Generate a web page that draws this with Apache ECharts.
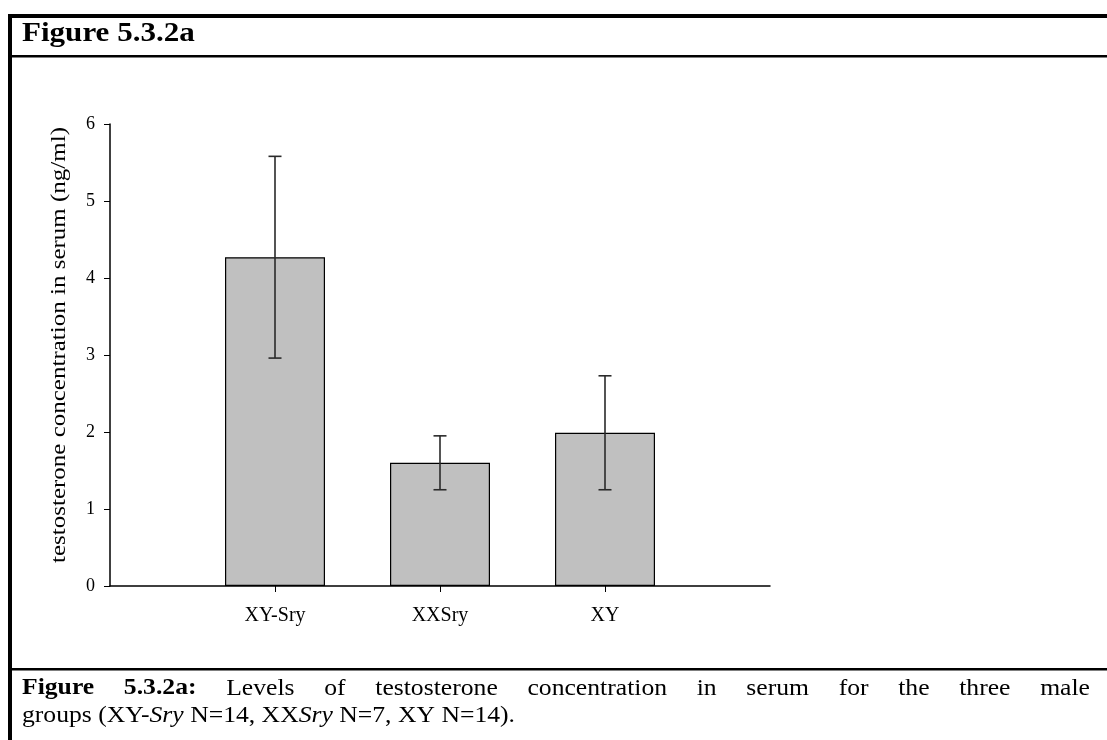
<!DOCTYPE html>
<html>
<head>
<meta charset="utf-8">
<script src="https://cdn.jsdelivr.net/npm/echarts@6/dist/echarts.min.js"></script>
<style>
  html, body { margin: 0; padding: 0; background: #fff; }
  #chart { width: 1107px; height: 740px; }
</style>
</head>
<body>
<div id="chart"></div>
<script>
// Serum testosterone by genotype group: mean and standard error
const categories = ['XY-Sry', 'XXSry', 'XY'];
const means = [4.27, 1.60, 1.99];
const stdErr = [1.31, 0.35, 0.74];
const xPositions = [1, 2, 3];

const SERIF = 'Liberation Serif';
const INK = '#000';

const measureCtx = document.createElement('canvas').getContext('2d');
function textWidth(str, size, bold, italic) {
  measureCtx.font = (italic ? 'italic ' : '') + (bold ? 'bold ' : '') + size + 'px "' + SERIF + '"';
  return measureCtx.measureText(str).width;
}
function txt(text, size, bold, italic, extra) {
  return Object.assign({
    text: text, fontFamily: SERIF, fontSize: size,
    fontWeight: bold ? 'bold' : 'normal', fontStyle: italic ? 'italic' : 'normal',
    fill: INK, align: 'left', verticalAlign: 'top'
  }, extra || {});
}

// Caption, first line is justified across the frame
const captionSize = 23;
const captionLine1 = [
  { t: 'Figure', bold: true }, { t: '5.3.2a:', bold: true },
  { t: 'Levels' }, { t: 'of' }, { t: 'testosterone' }, { t: 'concentration' },
  { t: 'in' }, { t: 'serum' }, { t: 'for' }, { t: 'the' }, { t: 'three' }, { t: 'male' }
];
const captionLine2 = [
  { t: 'groups (XY-' }, { t: 'Sry', italic: true }, { t: ' N=14, XX' },
  { t: 'Sry', italic: true }, { t: ' N=7, XY N=14).' }
];
const line2Natural = captionLine2.reduce((s, p) => s + textWidth(p.t, captionSize, false, p.italic), 0);
const capScale = 493 / line2Natural;
const capLeft = 22, capRight = 1090;
const wordWidths = captionLine1.map(w => textWidth(w.t, captionSize, w.bold, false) * capScale);
const gap = (capRight - capLeft - wordWidths.reduce((a, b) => a + b, 0)) / (captionLine1.length - 1);

const graphics = [
  // frame
  { type: 'rect', shape: { x: 8, y: 14, width: 1099, height: 4 }, style: { fill: INK } },
  { type: 'rect', shape: { x: 8, y: 14, width: 4, height: 726 }, style: { fill: INK } },
  { type: 'rect', shape: { x: 8, y: 55, width: 1099, height: 2.5 }, style: { fill: INK } },
  { type: 'rect', shape: { x: 8, y: 668, width: 1099, height: 2.5 }, style: { fill: INK } },
  // heading
  { type: 'text', x: 22, y: 21, scaleX: 1.15, style: txt('Figure 5.3.2a', 27, true, false) },
  // y axis title
  {
    type: 'text', x: 60, y: 345, rotation: Math.PI / 2, scaleX: 1.25,
    style: txt('testosterone concentration in serum (ng/ml)', 20, false, false,
      { align: 'center', verticalAlign: 'middle' })
  }
];
let cx = capLeft;
captionLine1.forEach((w, k) => {
  graphics.push({ type: 'text', x: cx, y: 677, scaleX: capScale, style: txt(w.t, captionSize, w.bold, false) });
  cx += wordWidths[k] + gap;
});
cx = capLeft;
captionLine2.forEach(p => {
  graphics.push({ type: 'text', x: cx, y: 704, scaleX: capScale, style: txt(p.t, captionSize, false, p.italic) });
  cx += textWidth(p.t, captionSize, false, p.italic) * capScale;
});

const chart = echarts.init(document.getElementById('chart'), null, { renderer: 'canvas' });
chart.setOption({
  backgroundColor: '#fff',
  animation: false,
  grid: { left: 110, right: 337, top: 124, bottom: 154, containLabel: false },
  xAxis: {
    type: 'value', min: 0, max: 4, interval: 1,
    splitLine: { show: false },
    axisLine: { show: true, lineStyle: { color: INK, width: 1.5 } },
    axisTick: { show: true, customValues: xPositions, length: 6, lineStyle: { color: INK, width: 1 } },
    axisLabel: {
      customValues: xPositions, margin: 20,
      fontFamily: SERIF, fontSize: 20, color: INK,
      formatter: v => categories[xPositions.indexOf(v)] || ''
    }
  },
  yAxis: {
    type: 'value', min: 0, max: 6, interval: 1,
    splitLine: { show: false },
    axisLine: { show: true, lineStyle: { color: INK, width: 1.5 } },
    axisTick: { show: true, length: 6, lineStyle: { color: INK, width: 1 } },
    axisLabel: { margin: 15, fontFamily: SERIF, fontSize: 18, color: INK }
  },
  graphic: graphics,
  series: [
    {
      type: 'bar',
      barWidth: 100,
      data: xPositions.map((x, i) => [x, means[i]]),
      itemStyle: { color: '#c0c0c0', borderColor: INK, borderWidth: 1.2 },
      z: 2
    },
    {
      type: 'custom',
      data: xPositions.map((x, i) => [x, means[i] - stdErr[i], means[i] + stdErr[i]]),
      z: 3,
      renderItem: (params, api) => {
        const lo = api.coord([api.value(0), api.value(1)]);
        const hi = api.coord([api.value(0), api.value(2)]);
        const cap = 6.5;
        const ls = { stroke: '#2a2a2a', lineWidth: 1.6 };
        return {
          type: 'group',
          children: [
            { type: 'line', shape: { x1: hi[0], y1: hi[1], x2: lo[0], y2: lo[1] }, style: ls },
            { type: 'line', shape: { x1: hi[0] - cap, y1: hi[1], x2: hi[0] + cap, y2: hi[1] }, style: ls },
            { type: 'line', shape: { x1: lo[0] - cap, y1: lo[1], x2: lo[0] + cap, y2: lo[1] }, style: ls }
          ]
        };
      }
    }
  ]
});
</script>
</body>
</html>
